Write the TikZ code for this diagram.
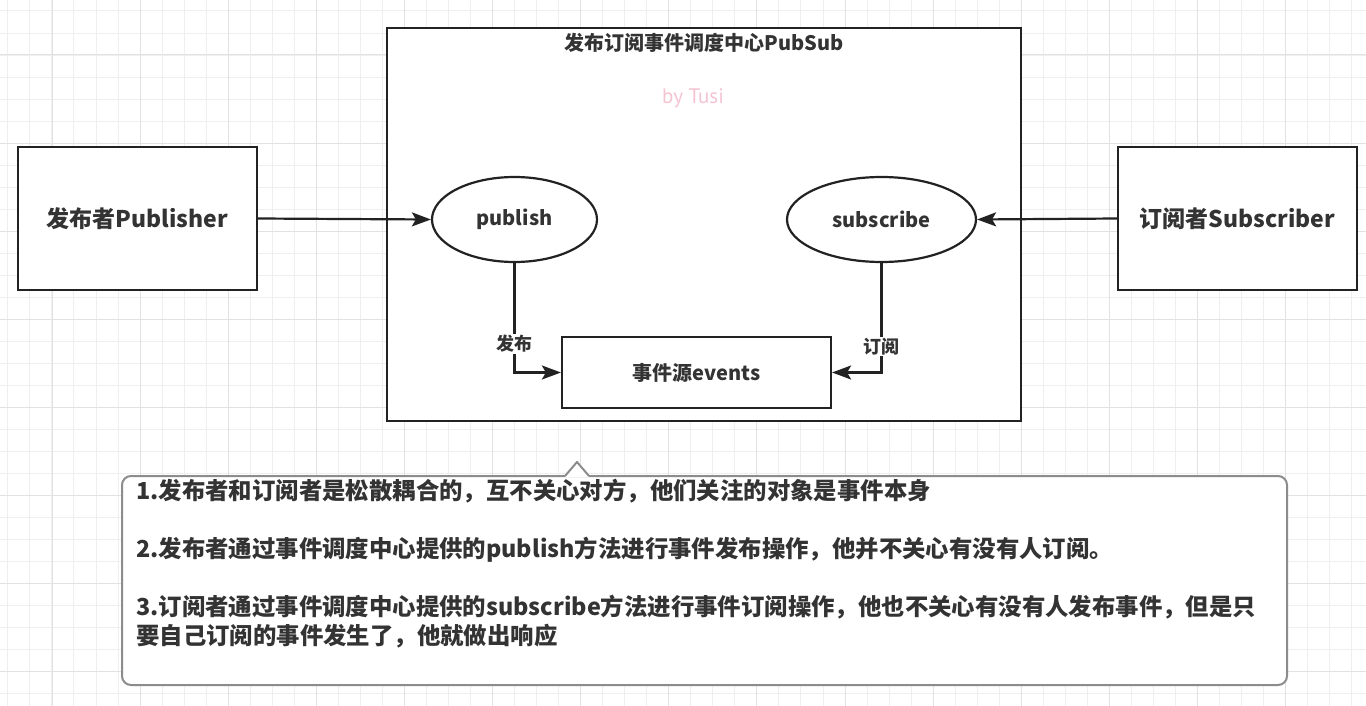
\documentclass[tikz,border=0pt]{standalone}
\usepackage{fontspec}
\setmainfont{Noto Sans CJK SC}
\newfontfamily\tusifont{PT Sans}
\usepackage{tikz}
\usetikzlibrary{arrows.meta,shapes.geometric,positioning}
\usepackage{xcolor}
\definecolor{ink}{HTML}{222222}
\definecolor{txt}{HTML}{333333}
\definecolor{gridminor}{HTML}{EFEFEF}
\definecolor{gridmajor}{HTML}{E2E2E2}
\definecolor{tusipink}{HTML}{F5C4D2}
\definecolor{noteline}{HTML}{8C8C8C}
\tikzstyle{arrow} = [line width=2.2pt,ink,-{Stealth[length=19pt,width=14pt,inset=4pt]}]
\tikzstyle{box} = [draw=ink, line width=2.2pt, fill=white, text=txt, align=center]
\tikzstyle{oval} = [ellipse, draw=ink, line width=2.2pt, fill=white, text=txt, inner sep=0pt]
\tikzstyle{lab} = [fill=white, text=txt, inner sep=1pt, font=\fontsize{18}{20}\selectfont\bfseries]

\begin{document}
\begin{tikzpicture}[x=1pt,y=-1pt]
  \useasboundingbox (0,0) rectangle (1366,706);
  % grid background
  \fill[white] (0,0) rectangle (1366,706);
  \foreach \gx in {0,...,62}
    \draw[gridminor, line width=1pt] ({7.9+22.03*\gx},0) -- ({7.9+22.03*\gx},706);
  \foreach \gy in {0,...,32}
    \draw[gridminor, line width=1pt] (0,{11+22.03*\gy}) -- (1366,{11+22.03*\gy});
  \foreach \gx in {0,...,15}
    \draw[gridmajor, line width=1pt] ({52+88.12*\gx},0) -- ({52+88.12*\gx},706);
  \foreach \gy in {0,...,7}
    \draw[gridmajor, line width=1pt] (0,{55+88.12*\gy}) -- (1366,{55+88.12*\gy});

  % dispatch centre
  \node [box, minimum width=634pt, minimum height=393pt] (pubsub) at (704,224.5) {};
  \node [text=txt, font=\fontsize{20}{22}\selectfont\bfseries, below=3pt of pubsub.north] (title)
  {发布订阅事件调度中心PubSub};
  \node [text=tusipink, font=\fontsize{21}{23}\selectfont\tusifont] (tusi) at (693,98) {by Tusi};

  % publisher and subscriber
  \node [box, minimum width=239pt, minimum height=143pt, font=\fontsize{23}{25}\selectfont\bfseries]
    (publisher) at (137.5,218.5) {发布者Publisher};
  \node [box, minimum width=239pt, minimum height=143pt, font=\fontsize{23}{25}\selectfont\bfseries]
    (subscriber) at (1237.5,218.5) {订阅者Subscriber};

  % methods and events
  \node [oval, minimum width=165pt, minimum height=85pt, font=\fontsize{20}{22}\selectfont\bfseries]
    (publish) at (514.5,219.5) {publish};
  \node [oval, minimum width=189pt, minimum height=85pt, font=\fontsize{20}{22}\selectfont\bfseries]
    (subscribe) at (881.5,219.5) {subscribe};
  \node [box, minimum width=269pt, minimum height=71pt, font=\fontsize{20}{22}\selectfont\bfseries]
    (events) at (696.5,372.5) {事件源events};

  \draw [arrow] (publisher.east) -- (publish.west);
  \draw [arrow] (subscriber.west) -- (subscribe.east);
  \draw [arrow] (publish.south) |- (events.west) node [lab, pos=0.37] {发布};
  \draw [arrow] (subscribe.south) |- (events.east) node [lab, pos=0.38] {订阅};

  % note
  \node [draw=noteline, line width=2pt, fill=white, rounded corners=9pt,
         minimum width=1165pt, minimum height=209pt] (note) at (704.5,580.5) {};
  \fill [white] (565,477) -- (577,463) -- (589,477) -- cycle;
  \draw [noteline, line width=2pt, line join=round] (565,476) -- (577,462) -- (589,476);
  \node [anchor=north west, inner sep=0pt, text=txt, align=left,
         font=\fontsize{23.4}{29}\selectfont\bfseries] (notetext) at (136,479)
  {1.发布者和订阅者是松散耦合的，互不关心对方，他们关注的对象是事件本身\\[29pt]
   2.发布者通过事件调度中心提供的publish方法进行事件发布操作，他并不关心有没有人订阅。\\[29pt]
   3.订阅者通过事件调度中心提供的subscribe方法进行事件订阅操作，他也不关心有没有人发布事件，但是只\\
   要自己订阅的事件发生了，他就做出响应};
\end{tikzpicture}
\end{document}
